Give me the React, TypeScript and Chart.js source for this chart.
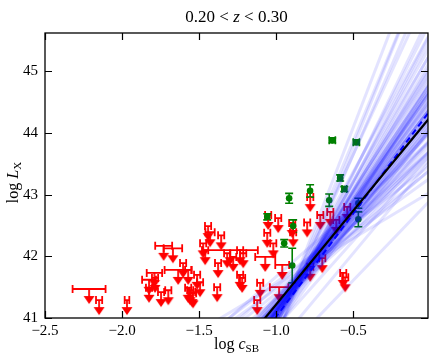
import React, { useEffect, useRef } from "react";
import { Chart, registerables } from "chart.js";
Chart.register(...registerables);

const xTicks = [-2.5, -2.0, -1.5, -1.0, -0.5];
const yTicks = [41, 42, 43, 44, 45];
const xMin = -2.5;
const xMax = -0.015;
const yMin = 41;
const yMax = 45.62;

// upper limits (red)
const limX = [-2.214, -2.149, -1.968, -1.73, -1.67, -1.79, -1.636, -1.825, -1.825, -1.747, -1.70, -1.571, -1.545, -1.604, -1.571, -1.442, -1.429, -1.357, -1.474, -1.461, -1.299, -1.318, -1.279, -1.234, -1.377, -1.234, -1.383, -1.513, -1.494, -1.558, -1.539, -1.786, -1.123, -1.214, -1.221, -1.071, -1.058, -0.987, -1.052, -1.019, -0.961, -1.104, -0.981, -0.890, -0.799, -0.714, -0.779, -0.701, -0.565, -0.649, -0.539, -0.779, -0.610, -0.552, -0.896];
const limY = [41.47, 41.29, 41.29, 42.17, 42.13, 41.73, 41.78, 41.62, 41.49, 41.42, 41.45, 41.49, 41.42, 41.89, 41.78, 42.49, 42.39, 42.34, 42.21, 42.10, 42.10, 42.05, 41.99, 42.10, 41.89, 41.70, 41.50, 41.70, 41.58, 41.45, 41.40, 41.65, 41.29, 42.05, 41.65, 41.99, 42.38, 42.62, 42.67, 42.21, 41.86, 41.57, 41.50, 42.39, 42.55, 42.67, 41.83, 41.97, 41.73, 42.72, 42.80, 42.96, 42.59, 41.66, 42.54];
const limXerr = [0.107, 0.02, 0.015, 0.055, 0.06, 0.05, 0.088, 0.045, 0.02, 0.02, 0.02, 0.02, 0.02, 0.02, 0.02, 0.02, 0.03, 0.02, 0.02, 0.02, 0.18, 0.02, 0.02, 0.02, 0.02, 0.02, 0.02, 0.02, 0.02, 0.02, 0.02, 0.02, 0.02, 0.02, 0.02, 0.065, 0.02, 0.02, 0.02, 0.02, 0.045, 0.02, 0.06, 0.02, 0.02, 0.02, 0.02, 0.02, 0.02, 0.02, 0.02, 0.02, 0.02, 0.02, 0.02];

// detections (green)
const detX = [-0.636, -0.48, -0.585, -0.558, -0.916, -0.78, -0.656, -0.467, -0.467, -1.058, -0.89, -0.948, -0.896];
const detY = [43.88, 43.85, 43.27, 43.09, 42.94, 43.06, 42.91, 42.86, 42.60, 42.64, 42.49, 42.21, 41.85];
const detYerr = [0.04, 0.04, 0.05, 0.04, 0.08, 0.1, 0.1, 0.08, 0.12, 0.05, 0.1, 0.06, 0.28];
const detXerr = [0.02, 0.02, 0.015, 0.015, 0, 0, 0, 0, 0, 0, 0, 0, 0];

// best fit (black) and median (blue dashed): value at x=0 and slope
const fitAt0 = 44.26;
const fitSlope = 3.04;
const medAt0 = 44.37;
const medSlope = 3.35;

// posterior draws: value at x = -0.9 and slope
const fanPivot = -0.9;
const fanA = [41.45, 41.51, 41.39, 41.47, 41.41, 41.54, 41.36, 41.49, 41.43, 41.57, 41.33, 41.47, 41.51, 41.38, 41.44, 41.55, 41.29, 41.48, 41.40, 41.60, 41.35, 41.50, 41.43, 41.39, 41.53, 41.25, 41.46, 41.65, 41.37, 41.47, 41.42, 41.56, 41.31, 41.52, 41.45, 41.21, 41.59, 41.41, 41.49, 41.35, 41.69, 41.47, 41.39, 41.54, 41.43, 41.17, 41.51, 41.38, 41.47, 41.61, 41.33, 41.44, 41.55, 41.41, 41.27, 41.51, 41.46, 41.73, 41.37, 41.48, 41.13, 41.57, 41.43, 41.39, 41.50, 41.30, 41.52, 41.40, 41.63, 41.45, 41.89, 40.57, 41.49, 41.47, 40.85, 41.77, 41.43, 41.36, 41.51, 41.47];
const fanB = [3.4, 3.1, 3.7, 2.9, 4.1, 2.6, 3.9, 3.5, 3.2, 2.3, 4.4, 3.0, 3.8, 3.3, 2.7, 3.6, 4.8, 2.5, 3.5, 2.0, 3.0, 4.2, 3.6, 2.8, 3.2, 5.2, 3.9, 1.8, 4.6, 3.3, 2.4, 3.0, 3.8, 2.8, 4.4, 4.0, 2.7, 3.0, 5.4, 3.4, 1.5, 3.7, 4.9, 3.4, 2.2, 3.5, 3.9, 3.1, 2.6, 3.2, 5.8, 3.5, 2.4, 3.8, 3.1, 3.0, 4.0, 2.2, 2.6, 3.6, 2.8, 4.5, 3.3, 4.2, 2.9, 6.2, 3.5, 2.9, 2.9, 3.1, 2.2, 2.6, 6.5, 6.0, 3.0, 1.9, 3.3, 3.7, 3.2, 3.4];

const SERIF = '"Liberation Serif", "DejaVu Serif", serif';

function makeArrow(color: string) {
  const c = document.createElement("canvas");
  c.width = 14;
  c.height = 36;
  const g = c.getContext("2d")!;
  g.strokeStyle = color;
  g.fillStyle = color;
  g.lineWidth = 1.8;
  g.beginPath();
  g.moveTo(7, 18);
  g.lineTo(7, 27);
  g.stroke();
  g.beginPath();
  g.moveTo(1.5, 25);
  g.lineTo(12.5, 25);
  g.lineTo(7, 33);
  g.closePath();
  g.fill();
  return c;
}

type Seg = { t: string; f: string; dy?: number };
function drawSegs(ctx: CanvasRenderingContext2D, segs: Seg[], cx: number, y: number) {
  let total = 0;
  const widths = segs.map((s) => {
    ctx.font = s.f;
    const w = ctx.measureText(s.t).width;
    total += w;
    return w;
  });
  let x = cx - total / 2;
  segs.forEach((s, i) => {
    ctx.font = s.f;
    ctx.fillText(s.t, x, y + (s.dy || 0));
    x += widths[i];
  });
}

const decorPlugin = {
  id: "decor",
  beforeDatasetsDraw(chart: any) {
    const { ctx, scales, chartArea } = chart;
    const x = scales.x;
    const y = scales.y;
    ctx.save();
    ctx.beginPath();
    ctx.rect(chartArea.left, chartArea.top, chartArea.right - chartArea.left, chartArea.bottom - chartArea.top);
    ctx.clip();
    ctx.lineWidth = 1.8;
    ctx.strokeStyle = "#ff0000";
    limX.forEach((v, i) => {
      const py = y.getPixelForValue(limY[i]);
      const x0 = x.getPixelForValue(v - limXerr[i]);
      const x1 = x.getPixelForValue(v + limXerr[i]);
      ctx.beginPath();
      ctx.moveTo(x0, py);
      ctx.lineTo(x1, py);
      ctx.moveTo(x0, py - 4);
      ctx.lineTo(x0, py + 4);
      ctx.moveTo(x1, py - 4);
      ctx.lineTo(x1, py + 4);
      ctx.stroke();
    });
    ctx.strokeStyle = "#008000";
    ctx.lineWidth = 1.6;
    detX.forEach((v, i) => {
      const px = x.getPixelForValue(v);
      const py = y.getPixelForValue(detY[i]);
      const y0 = y.getPixelForValue(detY[i] - detYerr[i]);
      const y1 = y.getPixelForValue(detY[i] + detYerr[i]);
      ctx.beginPath();
      ctx.moveTo(px, y0);
      ctx.lineTo(px, y1);
      ctx.moveTo(px - 4, y0);
      ctx.lineTo(px + 4, y0);
      ctx.moveTo(px - 4, y1);
      ctx.lineTo(px + 4, y1);
      if (detXerr[i] > 0) {
        const x0 = x.getPixelForValue(v - detXerr[i]);
        const x1 = x.getPixelForValue(v + detXerr[i]);
        ctx.moveTo(x0, py);
        ctx.lineTo(x1, py);
        ctx.moveTo(x0, py - 4);
        ctx.lineTo(x0, py + 4);
        ctx.moveTo(x1, py - 4);
        ctx.lineTo(x1, py + 4);
      }
      ctx.stroke();
    });
    ctx.restore();
  },
  afterDraw(chart: any) {
    const { ctx, scales, chartArea } = chart;
    const x = scales.x;
    const y = scales.y;
    const { left, right, top, bottom } = chartArea;
    ctx.save();
    ctx.strokeStyle = "#000";
    ctx.lineWidth = 1.3;
    ctx.strokeRect(left, top, right - left, bottom - top);
    ctx.lineWidth = 1.2;
    ctx.beginPath();
    xTicks.forEach((v) => {
      const px = Math.round(x.getPixelForValue(v)) + 0.5;
      ctx.moveTo(px, bottom);
      ctx.lineTo(px, bottom - 7);
      ctx.moveTo(px, top);
      ctx.lineTo(px, top + 7);
    });
    yTicks.forEach((v) => {
      const py = Math.round(y.getPixelForValue(v)) + 0.5;
      ctx.moveTo(left, py);
      ctx.lineTo(left + 7, py);
      ctx.moveTo(right, py);
      ctx.lineTo(right - 7, py);
    });
    ctx.stroke();

    ctx.fillStyle = "#000";
    ctx.textAlign = "left";
    ctx.textBaseline = "alphabetic";
    const cx = (left + right) / 2;
    drawSegs(
      ctx,
      [
        { t: "0.20 < ", f: `17px ${SERIF}` },
        { t: "z", f: `italic 17px ${SERIF}` },
        { t: " < 0.30", f: `17px ${SERIF}` },
      ],
      cx,
      22
    );
    drawSegs(
      ctx,
      [
        { t: "log ", f: `16px ${SERIF}` },
        { t: "c", f: `italic 16px ${SERIF}` },
        { t: "SB", f: `11px ${SERIF}`, dy: 3 },
      ],
      cx,
      349
    );
    ctx.translate(18, (top + bottom) / 2 + 7);
    ctx.rotate(-Math.PI / 2);
    drawSegs(
      ctx,
      [
        { t: "log ", f: `16px ${SERIF}` },
        { t: "L", f: `italic 16px ${SERIF}` },
        { t: "X", f: `11px ${SERIF}`, dy: 3 },
      ],
      0,
      0
    );
    ctx.restore();
  },
};

function lineData(at0: number, slope: number) {
  return [
    { x: -2.6, y: at0 + slope * -2.6 },
    { x: 0.1, y: at0 + slope * 0.1 },
  ];
}

export default function App() {
  const ref = useRef<HTMLCanvasElement>(null);
  useEffect(() => {
    document.body.style.margin = "0";
    const arrow = makeArrow("#ff0000");
    const n = Math.min(fanA.length, fanB.length);
    const fanSets: any[] = [];
    for (let i = 0; i < n; i++) {
      const at0 = fanA[i] - fanB[i] * fanPivot;
      fanSets.push({
        data: lineData(at0, fanB[i]),
        showLine: true,
        borderColor: "rgba(0,0,255,0.11)",
        borderWidth: 3,
        pointRadius: 0,
        order: 2,
      });
    }
    const chart = new Chart(ref.current!, {
      type: "scatter",
      data: {
        datasets: [
          {
            data: limX.map((v, i) => ({ x: v, y: limY[i] })),
            pointStyle: arrow as any,
            pointRadius: 7,
            order: 10,
          },
          {
            data: detX.map((v, i) => ({ x: v, y: detY[i] })),
            pointStyle: "circle",
            pointRadius: 3.3,
            backgroundColor: "#008000",
            borderColor: "#008000",
            borderWidth: 0,
            order: 9,
          },
          ...fanSets,
          {
            data: lineData(medAt0, medSlope),
            showLine: true,
            borderColor: "#0000ff",
            borderWidth: 2,
            borderDash: [6, 4],
            pointRadius: 0,
            order: 1,
          },
          {
            data: lineData(fitAt0, fitSlope),
            showLine: true,
            borderColor: "#000000",
            borderWidth: 2.2,
            pointRadius: 0,
            order: 0,
          },
        ],
      },
      options: {
        responsive: false,
        animation: false,
        events: [],
        layout: { padding: { top: 33, right: 8, left: 0, bottom: 0 } },
        plugins: { legend: { display: false }, title: { display: false }, tooltip: { enabled: false } },
        scales: {
          x: {
            type: "linear",
            min: xMin,
            max: xMax,
            grid: { display: false, drawTicks: false },
            border: { display: false },
            afterBuildTicks: (s: any) => {
              s.ticks = xTicks.map((v) => ({ value: v }));
            },
            afterFit: (s: any) => {
              s.height = 45;
            },
            ticks: {
              color: "#000",
              padding: 4,
              maxRotation: 0,
              autoSkip: false,
              font: { family: SERIF, size: 15 },
              callback: (v: any) => Number(v).toFixed(1).replace("-", "\u2212"),
            },
          },
          y: {
            type: "linear",
            min: yMin,
            max: yMax,
            grid: { display: false, drawTicks: false },
            border: { display: false },
            afterBuildTicks: (s: any) => {
              s.ticks = yTicks.map((v) => ({ value: v }));
            },
            afterFit: (s: any) => {
              s.width = 45;
            },
            ticks: {
              color: "#000",
              padding: 7,
              autoSkip: false,
              font: { family: SERIF, size: 15 },
              callback: (v: any) => String(v),
            },
          },
        },
      },
      plugins: [decorPlugin],
    } as any);
    return () => chart.destroy();
  }, []);
  return (
    <div style={{ width: 436, height: 363 }}>
      <canvas ref={ref} width={436} height={363} style={{ display: "block", width: 436, height: 363 }} />
    </div>
  );
}
